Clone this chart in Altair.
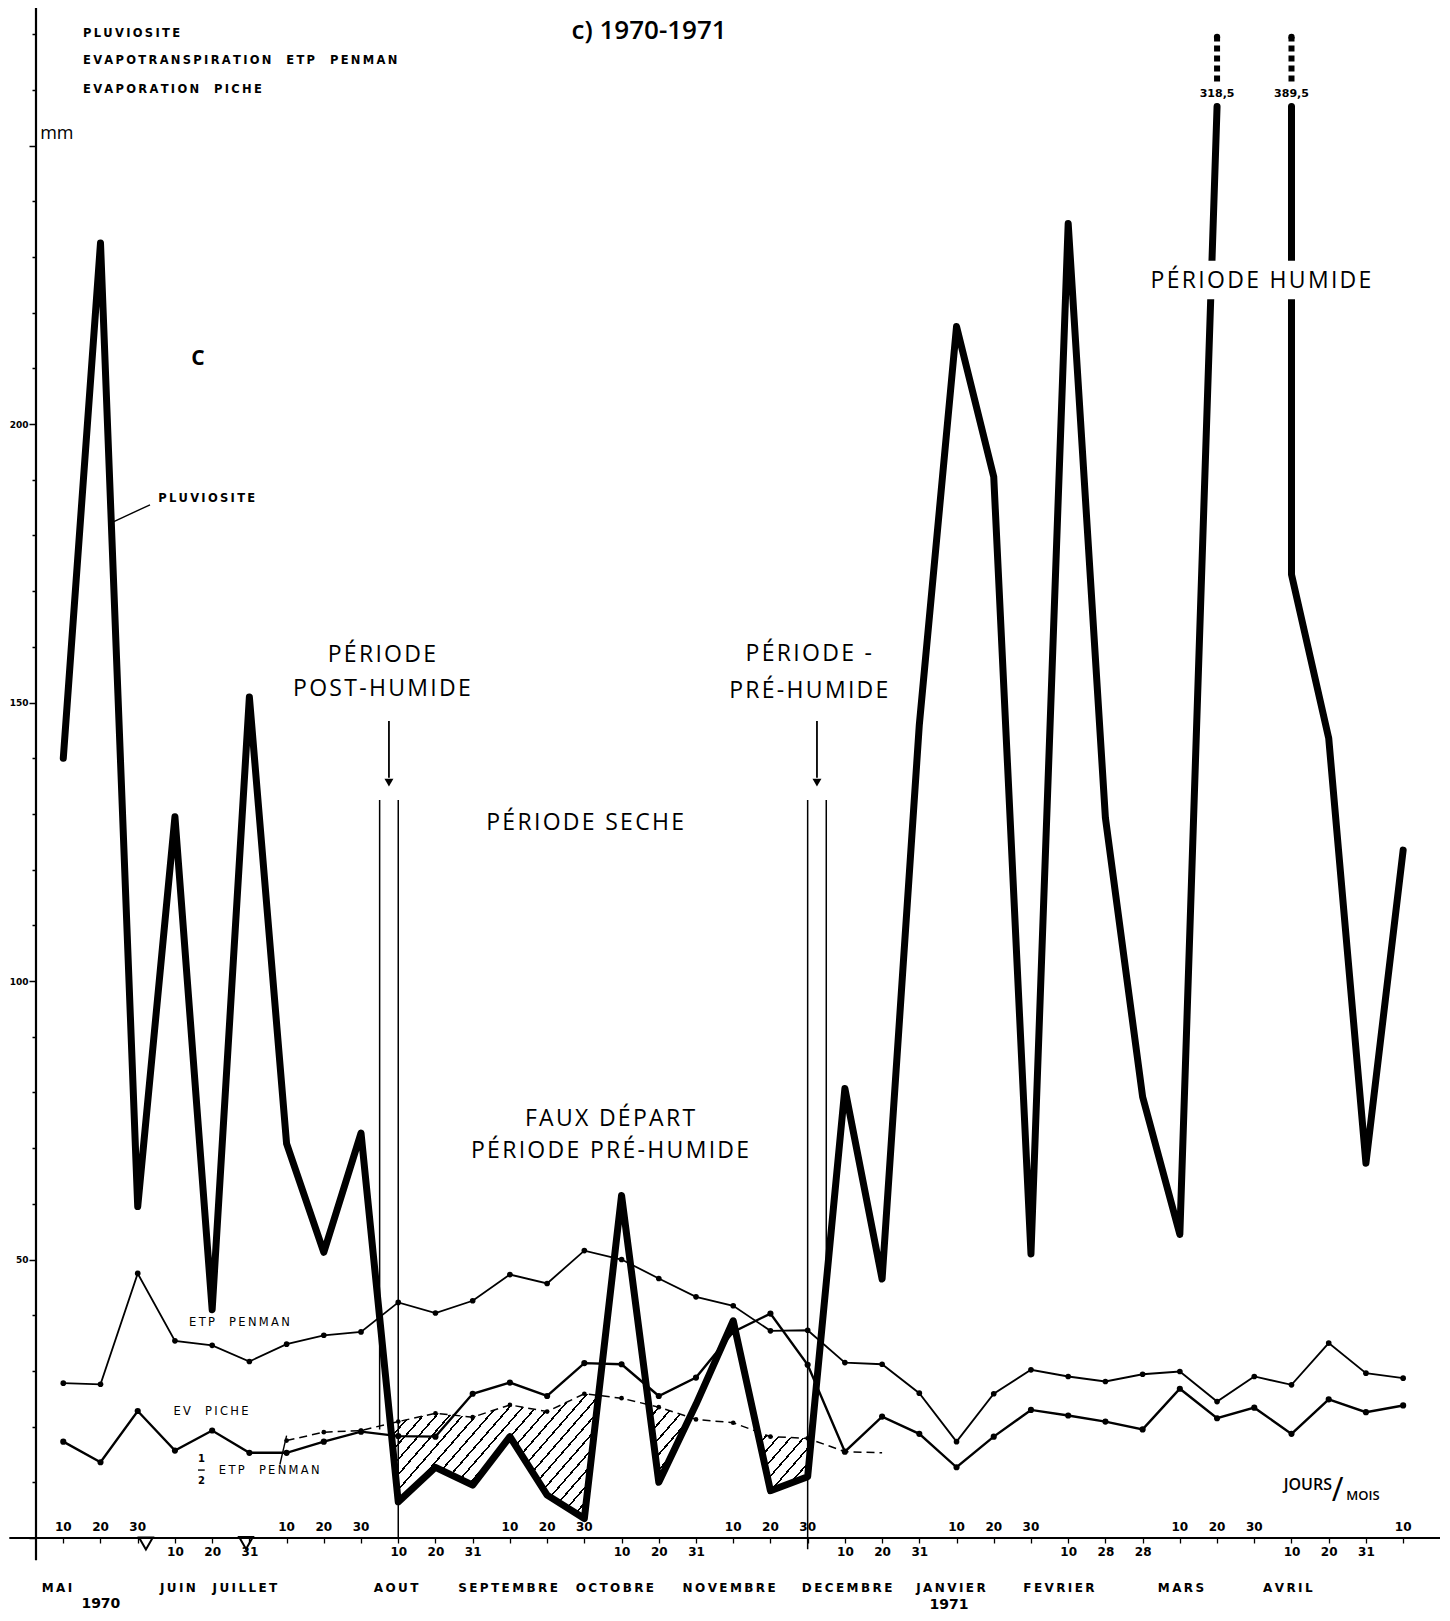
import json
import altair as alt
import pandas as pd

# ---------------- data (mm per 10-day period) ----------------
# decade index 0..36 : 10 May 1970 ... 10 May 1971
DECADE_LABELS = ["10", "20", "30", "10", "20", "31", "10", "20", "30", "10", "20", "31",
                 "10", "20", "30", "10", "20", "31", "10", "20", "30", "10", "20", "31",
                 "10", "20", "30", "10", "28", "28", "10", "20", "30", "10", "20", "31", "10"]

PLUVIO = [140, 232.5, 59.5, 129.5, 41, 151, 70.8, 51.3, 72.7, 6.5, 12.7, 9.5,
          18.2, 7.7, 3.5, 61.5, 10, 24, 39, 8.5, 11, 80.7, 46.5, 146,
          217.5, 190.5, 51, 236, 129.3, 79.2, 54.5, 318.5, None, 389.5, 143.6, 67.3, 123.5]
PLUVIO_BEND = 173          # foot of the broken column drawn at index 33

ETP_PENMAN = [27.8, 27.6, 47.5, 35.4, 34.6, 31.7, 34.8, 36.4, 37.0, 42.3, 40.4, 42.6,
              47.3, 45.7, 51.6, 50.0, 46.6, 43.3, 41.7, 37.2, 37.3, 31.5, 31.2, 26.0,
              17.3, 25.9, 30.2, 29.0, 28.1, 29.4, 29.9, 24.5, 29.0, 27.5, 35.0, 29.6, 28.7]

EV_PICHE = [17.3, 13.6, 22.8, 15.7, 19.3, 15.3, 15.3, 17.3, 19.1, 18.3, 18.2, 25.9,
            27.9, 25.5, 31.4, 31.2, 25.5, 28.8, 37.0, 40.3, 31.1, 15.5, 21.8, 18.7,
            12.7, 18.2, 23.0, 22.0, 20.9, 19.5, 26.8, 21.5, 23.4, 18.7, 24.9, 22.6, 23.8]

HALF_ETP_START = 6
HALF_ETP = [17.5, 19.0, 19.3, 20.9, 22.4, 21.7, 23.9, 22.7, 25.9, 25.1, 23.5, 21.3,
            20.7, 18.2, 17.9, 15.5, 15.3]

MONTHS = ["MAI", "JUIN", "JUILLET", "AOUT", "SEPTEMBRE", "OCTOBRE", "NOVEMBRE",
          "DECEMBRE", "JANVIER", "FEVRIER", "MARS", "AVRIL"]
MONTH_ANCHOR = [-0.17, 3.08, 4.88, 8.94, 11.95, 14.82, 17.89, 21.06, 23.85, 26.75, 30.03, 32.9]

CAP = 257  # top of the drawn curve (scale is broken above)

# ---------------- layout ----------------
PAD_L = 28
W, H = 1404, 1607
XD = [-0.733, 36.99]
YD = [-13.82, 274.69]
PX_X = W / (XD[1] - XD[0])
PX_Y = H / (YD[1] - YD[0])
XS = alt.Scale(domain=XD, nice=False, zero=False)
YS = alt.Scale(domain=YD, nice=False, zero=False)

STENCIL = "DejaVu Sans"
SANS = "Open Sans"
THIN = "\u2009"
HAIR = "\u200a"

idx = list(range(len(DECADE_LABELS)))
lower = [lab if (k // 3) % 2 == 1 else "" for k, lab in enumerate(DECADE_LABELS)]
upper_rows = [(k, 0, lab) for k, lab in enumerate(DECADE_LABELS) if (k // 3) % 2 == 0]

AX_X = alt.Axis(values=idx, labelExpr=json.dumps(lower) + "[datum.value]", offset=-77,
                tickSize=5, tickColor="black", tickWidth=1.3, domain=False, grid=False,
                title=None, labelFont=STENCIL, labelFontSize=12, labelFontWeight="bold",
                labelColor="black", labelPadding=3, labelOverlap=False, labelFlush=False,
                labelBound=False)
AX_Y = alt.Axis(values=list(range(0, 271, 10)),
                labelExpr="(datum.value % 50 == 0 && datum.value > 0 && datum.value < 250) ? datum.value : ''",
                tickSize={"condition": {"test": "datum.value % 50 == 0", "value": 7}, "value": 4},
                tickColor="black", tickWidth=1.5, domain=False, grid=False, title=None,
                labelFont=STENCIL, labelFontSize=9, labelFontWeight="bold",
                labelColor="black", labelPadding=1, labelOverlap=False)


def spaced(s, sep=THIN):
    return sep.join(s.replace(" ", "\u00a0"))


def X(f="x"):
    return alt.X(f"{f}:Q", scale=XS, axis=AX_X)


def Y(f="y"):
    return alt.Y(f"{f}:Q", scale=YS, axis=AX_Y)


def text_layer(rows, **kw):
    df = pd.DataFrame(rows, columns=["x", "y", "t"])
    kw.setdefault("color", "black")
    return alt.Chart(df).mark_text(**kw).encode(x=X(), y=Y(), text="t:N")


def seg_layer(rows, **kw):
    df = pd.DataFrame(rows, columns=["x", "y", "x2", "y2"])
    kw.setdefault("color", "black")
    return alt.Chart(df).mark_rule(**kw).encode(x=X(), y=Y(), x2="x2:Q", y2="y2:Q")


def box_layer(rows):
    df = pd.DataFrame(rows, columns=["x", "y", "x2", "y2"])
    return alt.Chart(df).mark_rect(color="white", opacity=1).encode(
        x=X(), y=Y(), x2="x2:Q", y2="y2:Q")


# ---------------- series tables ----------------
etp_df = pd.DataFrame({"i": idx, "v": ETP_PENMAN})
ev_df = pd.DataFrame({"i": idx, "v": EV_PICHE})
half_df = pd.DataFrame({"i": list(range(HALF_ETP_START, HALF_ETP_START + len(HALF_ETP))),
                        "v": HALF_ETP})

rows = []
o = 0
for i, v in enumerate(PLUVIO):
    if v is None:
        continue
    seg = "a" if i < 32 else "b"
    rows.append({"i": i, "v": v, "seg": seg, "o": o})
    o += 1
    if i == 33:
        rows.append({"i": i, "v": PLUVIO_BEND, "seg": seg, "o": o})
        o += 1
pluvio_df = pd.DataFrame(rows)

etp = alt.Chart(etp_df).mark_line(
    color="black", strokeWidth=1.8,
    point=alt.OverlayMarkDef(filled=True, size=32, color="black")
).encode(x=X("i"), y=Y("v"))

ev = alt.Chart(ev_df).mark_line(
    color="black", strokeWidth=2.4,
    point=alt.OverlayMarkDef(filled=True, size=38, color="black")
).encode(x=X("i"), y=Y("v"))

half_line = alt.Chart(half_df).mark_line(color="black", strokeWidth=1.5, strokeDash=[8, 5]).encode(
    x=X("i"), y=Y("v"))
half_pts = alt.Chart(half_df).transform_filter("datum.i < 22").mark_point(
    filled=True, size=22, color="black", opacity=1).encode(x=X("i"), y=Y("v"))

pluvio = alt.Chart(pluvio_df).transform_calculate(
    vd=f"min(datum.v, {CAP})"
).mark_line(color="black", strokeWidth=7, strokeJoin="round", strokeCap="round").encode(
    x=X("i"), y=Y("vd"), detail="seg:N", order="o:Q")

# ---------------- hatched deficit areas (pluvio below 1/2 ETP) ----------------
half_map = {HALF_ETP_START + k: v for k, v in enumerate(HALF_ETP)}
hx = sorted(half_map)
regions, cur = [], []
for k, i in enumerate(hx):
    p, h = PLUVIO[i], half_map[i]
    d = h - p
    if d > 0:
        cur.append((i, p, h))
    if k + 1 < len(hx):
        j = hx[k + 1]
        d2 = half_map[j] - PLUVIO[j]
        if d * d2 < 0:
            t = d / (d - d2)
            xc = i + t
            yc = p + t * (PLUVIO[j] - p)
            cur.append((xc, yc, yc))
            if d2 < 0:
                regions.append(cur)
                cur = []
if cur:
    regions.append(cur)


def hatch_fill(w, h, s=10.0, lw=1.6, slope=1.15):
    gx0, gy0 = slope / h, 1.0 / w
    t = (gx0 + gy0) / (gx0 ** 2 + gy0 ** 2)
    gx, gy = t * gx0, t * gy0
    g2 = gx * gx + gy * gy
    m = ((gx / w) ** 2 + (gy / h) ** 2) ** 0.5 / g2
    n = max(1, int(round(1.0 / (s * m))))
    frac = min(0.5, lw / s)
    stops = []
    for k in range(n):
        a, b, c = k / n, (k + 1 - frac) / n, (k + 1) / n
        stops += [{"offset": a, "color": "rgba(255,255,255,0)"},
                  {"offset": b, "color": "rgba(255,255,255,0)"},
                  {"offset": b, "color": "black"},
                  {"offset": c, "color": "black"}]
    return {"gradient": "linear", "x1": 0, "y1": 0, "x2": gx, "y2": gy, "stops": stops}


hatch_layers = []
for reg in regions:
    df = pd.DataFrame(reg, columns=["x", "lo", "hi"])
    w = max(1.0, (df.x.max() - df.x.min()) * PX_X)
    h = max(1.0, (df.hi.max() - df.lo.min()) * PX_Y)
    hatch_layers.append(
        alt.Chart(df).mark_area(fill=hatch_fill(w, h), strokeWidth=0, opacity=1).encode(
            x=X("x"), y=Y("lo"), y2="hi:Q"))

# ---------------- broken-scale columns ----------------
breaks = pd.DataFrame([{"i": i, "lab": f"{v}".replace(".", ","),
                        "b0": 261.5, "b1": 269.5, "bl": 259.2}
                       for i, v in enumerate(PLUVIO) if v is not None and v > CAP])
break_bars = alt.Chart(breaks).mark_rule(color="black", strokeWidth=6, strokeDash=[6, 4]).encode(
    x=X("i"), y=Y("b0"), y2="b1:Q")
break_top = alt.Chart(breaks).mark_point(filled=True, size=40, color="black", opacity=1).encode(
    x=X("i"), y=Y("b1"))
break_lab = alt.Chart(breaks).mark_text(font=STENCIL, fontSize=11, fontWeight="bold",
                                        color="black").encode(
    x=X("i"), y=Y("bl"), text="lab:N")

# ---------------- axes lines drawn as rules ----------------
base_rule = seg_layer([(-1.45, 0, 37.0, 0)], strokeWidth=1.8)
y_rule = seg_layer([(XD[0], -4, XD[0], YD[1])], strokeWidth=2.2)

# ---------------- period boundaries & arrows ----------------
period_lines = seg_layer([(8.5, 19.5, 8.5, 132.5), (9, 0, 9, 132.5),
                          (20, -2, 20, 132.5), (20.5, 46, 20.5, 132.5)], strokeWidth=1.5)
arrow_shafts = seg_layer([(8.75, 146.7, 8.75, 136.5), (20.25, 146.7, 20.25, 136.5)], strokeWidth=1.8)
arrow_heads = alt.Chart(pd.DataFrame({"x": [8.75, 20.25], "y": [135.6, 135.6]})).mark_point(
    shape="triangle-down", filled=True, size=80, color="black", opacity=1).encode(x=X(), y=Y())

# ---------------- x labels ----------------
upper_lab = text_layer(upper_rows, font=STENCIL, fontSize=12, fontWeight="bold",
                       baseline="bottom", dy=-4)
month_lab = text_layer(list(zip(MONTH_ANCHOR, [-8.9] * len(MONTHS), [spaced(m) for m in MONTHS])),
                       font=STENCIL, fontSize=12, fontWeight="bold")
year_lab = text_layer([(1.01, -11.8, "1970"), (23.8, -12.0, "1971")], font=STENCIL,
                      fontSize=14, fontWeight="bold")
tri = alt.Chart(pd.DataFrame({"x": [2.22, 4.91], "y": [-1.0, -0.9]})).mark_point(
    shape="triangle-down", filled=False, size=190, strokeWidth=2, color="black", opacity=1).encode(
    x=X(), y=Y())

# ---------------- annotations ----------------
title = text_layer([(15.74, 270.6, "c) 1970-1971")], font=SANS, fontSize=26, fontWeight=600)
legend = text_layer([(0.53, 270.0, spaced("PLUVIOSITE")),
                     (0.53, 265.2, spaced("EVAPOTRANSPIRATION  ETP  PENMAN")),
                     (0.53, 260.0, spaced("EVAPORATION  PICHE"))],
                    font=STENCIL, fontSize=11.5, fontWeight="bold", align="left")
mm_lab = text_layer([(-0.62, 252.1, "mm")], font=SANS, fontSize=18, align="left")
c_lab = text_layer([(3.62, 211.7, "C")], font=SANS, fontSize=21, fontWeight="bold")
humide_box = box_layer([(30.55, 222.4, 33.9, 229.3)])
periods = text_layer([(8.56, 158.5, spaced("PÉRIODE", HAIR)), (8.56, 152.4, spaced("POST-HUMIDE", HAIR)),
                      (20.03, 158.7, spaced("PÉRIODE -", HAIR)), (20.03, 152.0, spaced("PRÉ-HUMIDE", HAIR)),
                      (14.02, 128.4, spaced("PÉRIODE SECHE", HAIR)),
                      (14.69, 75.2, spaced("FAUX DÉPART", HAIR)),
                      (14.69, 69.5, spaced("PÉRIODE PRÉ-HUMIDE", HAIR)),
                      (32.18, 225.7, spaced("PÉRIODE HUMIDE", HAIR))],
                     font=SANS, fontSize=23)
pluv_lab = text_layer([(2.55, 186.6, spaced("PLUVIOSITE"))],
                      font=STENCIL, fontSize=11.5, fontWeight="bold", align="left")
series_lab = text_layer([(3.38, 38.6, spaced("ETP  PENMAN")),
                         (2.96, 22.7, spaced("EV  PICHE")),
                         (4.18, 12.1, spaced("ETP  PENMAN"))],
                        font=STENCIL, fontSize=11.5, align="left")
frac = text_layer([(3.71, 14.1, "1"), (3.71, 10.3, "2")], font=STENCIL, fontSize=10,
                  fontWeight="bold")
leaders = seg_layer([(1.3, 182.3, 2.33, 185.5), (5.82, 13.2, 6.0, 18.4),
                     (3.62, 12.2, 3.8, 12.2)], strokeWidth=1.4)
jours = text_layer([(33.44, 9.6, "JOURS")], font=SANS, fontSize=16, fontWeight=600)
slash = text_layer([(34.24, 8.5, "/")], font=SANS, fontSize=32)
mois = text_layer([(34.92, 7.6, "MOIS")], font=SANS, fontSize=13, fontWeight=600)

chart = alt.layer(
    etp, *hatch_layers, half_line, half_pts, ev, pluvio,
    break_bars, break_top, break_lab,
    base_rule, y_rule, period_lines, arrow_shafts, arrow_heads,
    upper_lab, month_lab, year_lab, tri,
    title, legend, mm_lab, c_lab, humide_box, periods, pluv_lab, series_lab, frac, leaders,
    jours, slash, mois,
).properties(
    width=W, height=H,
    padding={"left": PAD_L, "top": 0, "right": 0, "bottom": 0},
    autosize=alt.AutoSizeParams(type="none"),
    background="white",
).configure_view(strokeWidth=0)

chart.save("out.html", embed_options={"renderer": "svg", "actions": False})
